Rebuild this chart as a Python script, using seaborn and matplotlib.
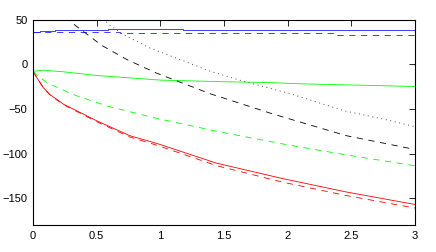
import seaborn as sns
import matplotlib.pyplot as plt

# values
red_x = [0, 0.008, 0.03, 0.08, 0.13, 0.24, 0.5, 0.76, 0.98, 1.44, 1.96, 2.46, 3.0]
red_solid = [-8, -9.6, -15, -26, -33.7, -44.8, -63.3, -80, -89, -110.7, -128, -143, -157]
red_dash = [-8, -9.6, -15, -26, -34, -45.3, -64.3, -81.5, -91, -113.5, -132, -147, -161]

green_solid_x = [0, 0.08, 0.24, 0.5, 1.0, 1.5, 1.84, 2.12, 2.42, 2.73, 3.0]
green_solid = [-8, -6.7, -8.5, -12.6, -17.8, -19.6, -20.5, -22, -23, -24, -25]
green_dash_x = [0, 0.02, 0.11, 0.31, 0.58, 0.94, 1.44, 1.99, 2.46, 2.97, 3.0]
green_dash = [-8, -11, -20.7, -33.7, -46.7, -59.6, -75, -90, -101.5, -113, -113.5]

blue_solid_x = [0, 0.055, 0.17, 0.59, 1.18, 3.0]
blue_solid = [36.3, 37.4, 38.5, 39.6, 38.5, 38.5]
blue_dash_x = [0, 0.68, 2.38, 3.0]
blue_dash = [36, 34.8, 33, 33]

black_dash_x = [0.25, 0.29, 0.54, 0.74, 0.97, 1.39, 1.89, 2.08, 2.46, 2.95, 3.0]
black_dash = [53, 48, 21, 5, -10, -33, -56, -64, -80, -94, -95]
black_dot_x = [0.55, 0.6, 0.71, 0.92, 1.15, 1.39, 1.65, 2.02, 2.44, 2.8, 3.0]
black_dot = [51, 44, 33, 18, 5.5, -7.8, -19, -33, -52, -63, -70]

sns.set_style("white")
plt.rcParams["font.family"] = ["Liberation Sans", "DejaVu Sans"]
plt.rcParams["lines.scale_dashes"] = False

fig = plt.figure(figsize=(4.36, 2.52), dpi=100)
ax = fig.add_axes([0.0757, 0.107, 0.8763, 0.8155])

lw = 0.6
dash = (4.5, 4)
dot = (0.7, 2.6)
sns.lineplot(x=red_x, y=red_solid, color="red", lw=lw, ax=ax)
sns.lineplot(x=red_x, y=red_dash, color="red", lw=lw, ax=ax).lines[-1].set_dashes(dash)
sns.lineplot(x=green_solid_x, y=green_solid, color="#00ff00", lw=lw, ax=ax)
sns.lineplot(x=green_dash_x, y=green_dash, color="#00ff00", lw=lw, ax=ax).lines[-1].set_dashes(dash)
sns.lineplot(x=blue_solid_x, y=blue_solid, color="#2020ff", lw=lw, drawstyle="steps-post", ax=ax)
sns.lineplot(x=blue_dash_x, y=blue_dash, color="#2020ff", lw=lw, drawstyle="steps-post", ax=ax).lines[-1].set_dashes(dash)
sns.lineplot(x=black_dash_x, y=black_dash, color="black", lw=lw, ax=ax).lines[-1].set_dashes(dash)
sns.lineplot(x=black_dot_x, y=black_dot, color="#333333", lw=lw, ax=ax).lines[-1].set_dashes(dot)

ax.set_xlim(0, 3)
ax.set_ylim(-180, 50)
ax.set_xticks([0, 0.5, 1, 1.5, 2, 2.5, 3])
ax.set_xticklabels(["0", "0.5", "1", "1.5", "2", "2.5", "3"])
ax.set_yticks([-150, -100, -50, 0, 50])
ax.tick_params(direction="in", length=4, width=0.6, labelsize=8,
               top=True, right=True, colors="black", pad=4)
for s in ax.spines.values():
    s.set_color("black")
    s.set_linewidth(0.8)

fig.savefig("out.png", dpi=100)
